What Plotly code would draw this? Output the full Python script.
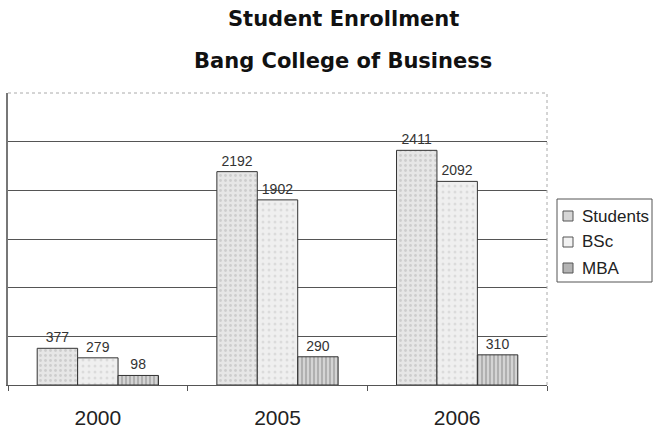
import plotly.graph_objects as go

years = ["2000", "2005", "2006"]
students = [377, 2192, 2411]
bsc = [279, 1902, 2092]
mba = [98, 290, 310]
title_lines = ["Student Enrollment", "Bang College of Business"]

series = [
    ("Students", students, dict(color="#e2e2e2", swatch="#d6d6d6", pattern=dict(shape=".", fgcolor="#b4b4b4", bgcolor="#e6e6e6", size=5, solidity=0.25))),
    ("BSc", bsc, dict(color="#ececec", swatch="#f2f2f2", pattern=dict(shape=".", fgcolor="#c8c8c8", bgcolor="#efefef", size=6, solidity=0.2))),
    ("MBA", mba, dict(color="#b0b0b0", swatch="#b4b4b4", pattern=dict(shape="|", fgcolor="#8c8c8c", bgcolor="#d4d4d4", size=4, solidity=0.5))),
]

W, H = 654, 430
L, R, T, B = 8, 107, 93, 45
PW, PH = W - L - R, H - T - B


def px(xp):
    return (xp - L) / PW


def py(yp):
    return (H - B - yp) / PH


fig = go.Figure()
for name, vals, m in series:
    fig.add_trace(go.Bar(
        name=name, x=years, y=vals,
        text=[str(v) for v in vals], textposition="outside",
        textfont=dict(family="Arial", size=14, color="#333333"),
        cliponaxis=False, showlegend=False,
        marker=dict(color=m["color"], pattern=m["pattern"], line=dict(color="#333333", width=1)),
    ))

fig.update_layout(
    width=W, height=H,
    margin=dict(l=L, r=R, t=T, b=B, autoexpand=False),
    paper_bgcolor="white", plot_bgcolor="white",
    barmode="group", bargap=0.325, bargroupgap=0,
    xaxis=dict(
        showline=True, linecolor="#555555", linewidth=1,
        ticks="outside", tickson="boundaries", ticklen=5, tickcolor="#555555",
        tickfont=dict(family="Arial", size=21, color="#222222"),
        ticklabelstandoff=14,
        showgrid=False, mirror=False,
    ),
    yaxis=dict(
        range=[0, 3000], dtick=500, showticklabels=False,
        showgrid=True, gridcolor="#555555", gridwidth=1,
        showline=True, linecolor="#777777", linewidth=2,
        zeroline=False, ticks="",
    ),
)

# two-line title as annotations
for txt, yc in zip(title_lines, [19, 61]):
    fig.add_annotation(
        text=txt, xref="paper", yref="paper",
        x=px(343), y=py(yc),
        xanchor="center", yanchor="middle", showarrow=False,
        font=dict(family="DejaVu Sans", size=21, color="#111111", weight="bold"),
    )

# dotted plot-area border on top and right
fig.add_shape(type="line", xref="paper", yref="paper", x0=0, x1=1, y0=1, y1=1,
              line=dict(color="#aaaaaa", width=1, dash="dot"))
fig.add_shape(type="line", xref="paper", yref="paper", x0=1, x1=1, y0=0, y1=1,
              line=dict(color="#aaaaaa", width=1, dash="dot"))

# legend box with entries
fig.add_shape(type="rect", xref="paper", yref="paper",
              x0=px(557), x1=px(652), y0=py(282), y1=py(199),
              line=dict(color="#555555", width=1), fillcolor="white")
for (name, vals, m), yc in zip(series, [216, 242, 268]):
    fig.add_shape(type="rect", xref="paper", yref="paper",
                  x0=px(563), x1=px(573), y0=py(yc + 5), y1=py(yc - 5),
                  line=dict(color="#555555", width=1), fillcolor=m["swatch"])
    fig.add_annotation(
        text=name, xref="paper", yref="paper", x=px(580), y=py(yc),
        xanchor="left", yanchor="middle", showarrow=False,
        font=dict(family="Arial", size=17, color="#222222"),
    )

fig.write_html("out.html")
